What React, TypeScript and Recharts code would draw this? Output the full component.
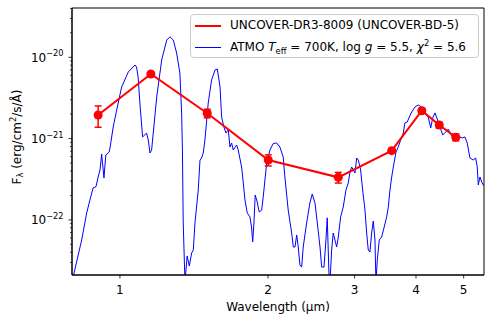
import React from 'react';
import { ComposedChart, Line, XAxis, YAxis, ErrorBar, Legend, ReferenceArea } from 'recharts';

// Photometry (UNCOVER-DR3-8009)
const photWave = [0.903, 1.156, 1.505, 2.003, 2.78, 3.57, 4.11, 4.46, 4.82];
const photFlux = [1.95e-21, 6.23e-21, 2.05e-21, 5.46e-22, 3.34e-22, 7.1e-22, 2.2e-21, 1.47e-21, 1.04e-21];
const photErr = [0.57e-21, 0.3e-21, 0.25e-21, 0.85e-22, 0.5e-22, 0.4e-22, 0.15e-21, 0.12e-21, 0.1e-21];

// ATMO model spectrum
const modelWave = [
  0.799, 0.836, 0.856, 0.869, 0.882, 0.894, 0.903, 0.911, 0.918, 0.928,
  0.936, 0.951, 0.956, 0.969, 0.985, 1.008, 1.040, 1.073, 1.081, 1.089,
  1.098, 1.112, 1.124, 1.133, 1.142, 1.151, 1.160, 1.188, 1.216, 1.245,
  1.264, 1.284, 1.304, 1.324, 1.335, 1.340, 1.345, 1.356, 1.370, 1.384,
  1.399, 1.410, 1.421, 1.443, 1.455, 1.466, 1.477, 1.489, 1.512, 1.536,
  1.561, 1.578, 1.598, 1.610, 1.627, 1.643, 1.661, 1.674, 1.687, 1.700,
  1.727, 1.740, 1.768, 1.782, 1.796, 1.815, 1.838, 1.852, 1.862, 1.873,
  1.884, 1.902, 1.920, 1.942, 1.956, 1.972, 1.988, 2.019, 2.050, 2.083,
  2.115, 2.148, 2.165, 2.199, 2.235, 2.252, 2.270, 2.288, 2.305, 2.323,
  2.342, 2.359, 2.397, 2.434, 2.461, 2.493, 2.520, 2.552, 2.572, 2.600,
  2.624, 2.640, 2.661, 2.674, 2.695, 2.715, 2.737, 2.759, 2.780, 2.811,
  2.845, 2.882, 2.913, 2.937, 2.960, 2.983, 3.006, 3.030, 3.053, 3.087,
  3.116, 3.150, 3.175, 3.199, 3.224, 3.250, 3.275, 3.301, 3.316, 3.337,
  3.368, 3.406, 3.443, 3.487, 3.514, 3.541, 3.570, 3.597, 3.643, 3.681,
  3.723, 3.769, 3.798, 3.840, 3.876, 3.920, 3.981, 4.043, 4.108, 4.172,
  4.236, 4.285, 4.325, 4.372, 4.419, 4.475, 4.532, 4.603, 4.653, 4.690,
  4.750, 4.824, 4.899, 4.977, 5.030, 5.085, 5.149, 5.229, 5.289, 5.329,
  5.354, 5.397, 5.440, 5.481, 5.524,
];
const modelFlux = [
  1.72e-23, 5.66e-23, 1.22e-22, 1.76e-22, 2.47e-22, 2.56e-22, 3.37e-22, 4.11e-22, 6.46e-22, 3.28e-22,
  6.28e-22, 6.84e-22, 8.11e-22, 1.39e-21, 2.25e-21, 4.31e-21, 6.60e-21, 8.04e-21, 7.60e-21, 5.72e-21,
  2.74e-21, 1.05e-21, 1.11e-21, 1.17e-21, 9.61e-22, 6.65e-22, 7.24e-22, 3.25e-21, 9.26e-21, 1.63e-20,
  1.79e-20, 1.63e-20, 1.13e-20, 6.41e-21, 2.07e-21, 7.24e-22, 9.16e-23, 1.72e-23, 3.60e-23, 2.71e-23,
  3.92e-23, 4.26e-23, 9.16e-23, 2.33e-22, 5.45e-22, 5.77e-22, 6.65e-22, 9.61e-22, 2.74e-21, 5.26e-21,
  6.98e-21, 7.18e-21, 4.31e-21, 1.84e-21, 1.39e-21, 1.17e-21, 1.28e-21, 7.88e-22, 8.83e-22, 7.24e-22,
  8.35e-22, 7.24e-22, 4.47e-22, 2.84e-22, 1.76e-22, 1.22e-22, 1.09e-22, 8.18e-23, 5.35e-23, 9.16e-23,
  2.02e-22, 1.66e-22, 1.25e-22, 1.32e-22, 1.91e-22, 3.10e-22, 5.01e-22, 7.24e-22, 8.71e-22, 8.83e-22,
  7.88e-22, 5.94e-22, 3.37e-22, 1.32e-22, 6.90e-23, 4.64e-23, 4.64e-23, 6.52e-23, 4.64e-23, 2.79e-23,
  2.63e-23, 4.64e-23, 9.16e-23, 1.61e-22, 2.08e-22, 1.61e-22, 9.16e-23, 4.64e-23, 2.63e-23, 2.63e-23,
  5.66e-23, 1.06e-22, 2.22e-23, 1.72e-23, 4.26e-23, 6.90e-23, 5.66e-23, 4.64e-23, 6.16e-23, 1.09e-22,
  1.44e-22, 2.33e-22, 2.84e-22, 3.88e-22, 4.47e-22, 4.11e-22, 3.78e-22, 5.77e-22, 5.45e-22, 4.11e-22,
  2.33e-22, 1.32e-22, 6.90e-23, 4.26e-23, 4.03e-23, 6.90e-23, 9.69e-23, 5.66e-23, 1.72e-23, 3.21e-23,
  5.66e-23, 6.16e-23, 7.95e-23, 1.09e-22, 1.44e-22, 2.33e-22, 3.37e-22, 4.47e-22, 6.84e-22, 7.88e-22,
  9.61e-22, 1.17e-21, 1.56e-21, 1.60e-21, 1.84e-21, 2.12e-21, 2.45e-21, 2.59e-21, 2.45e-21, 2.07e-21,
  1.84e-21, 1.35e-21, 1.79e-21, 2.07e-21, 1.74e-21, 1.39e-21, 1.11e-21, 1.21e-21, 1.31e-21, 1.17e-21,
  1.05e-21, 1.02e-21, 1.05e-21, 1.02e-21, 1.05e-21, 8.83e-22, 5.77e-22, 5.45e-22, 5.77e-22, 4.47e-22,
  2.69e-22, 3.37e-22, 2.93e-22, 2.69e-22, 2.60e-22,
];

// Axes
const xDomain = [0.799, 5.5];
const yDomain = [2.1e-23, 4.04e-20];
const xTicks = [1, 2, 3, 4, 5];
const yDecades = [-23, -22, -21, -20];
const yMinorMantissas = [2, 3, 4, 5, 6, 7, 8, 9];

const yTicks: number[] = [];
yDecades.forEach((d) => {
  const base = Math.pow(10, d);
  [1, ...yMinorMantissas].forEach((m) => {
    const v = m * base;
    if (v >= yDomain[0] && v <= yDomain[1]) yTicks.push(v);
  });
});

const photData = photWave.map((w, i) => ({ w, f: photFlux[i], e: photErr[i] }));
const modelData = modelWave.map((w, i) => ({ w, f: modelFlux[i] }));

const FONT = "'DejaVu Sans', sans-serif";

const YTick = (props: any) => {
  const { x, y, payload } = props;
  const v = payload.value as number;
  const lg = Math.log10(v);
  const e = Math.round(lg);
  const major = Math.abs(lg - e) < 1e-6;
  if (!major) {
    return <line x1={x - 2} x2={x} y1={y} y2={y} stroke="#000" strokeWidth={0.7} />;
  }
  return (
    <g>
      <line x1={x - 3.5} x2={x} y1={y} y2={y} stroke="#000" strokeWidth={0.8} />
      <text x={x - 8.5} y={y + 4.5} textAnchor="end" fontFamily={FONT} fontSize={12} fill="#000">
        10<tspan fontSize={8.2} dy={-5.5}>{'\u2212' + Math.abs(e)}</tspan>
      </text>
    </g>
  );
};

const XTick = (props: any) => {
  const { x, y, payload } = props;
  return (
    <g>
      <line x1={x} x2={x} y1={y} y2={y + 3.5} stroke="#000" strokeWidth={0.8} />
      <text x={x} y={y + 19} textAnchor="middle" fontFamily={FONT} fontSize={12} fill="#000">
        {String(payload.value)}
      </text>
    </g>
  );
};

const YLabel = (props: any) => {
  const vb = props.viewBox || { x: 0, y: 8, width: 72, height: 267 };
  const cx = 20.5;
  const cy = vb.y + vb.height / 2 - 4.5;
  return (
    <text
      x={cx}
      y={cy}
      transform={`rotate(-90, ${cx}, ${cy})`}
      textAnchor="middle"
      fontFamily={FONT}
      fontSize={12}
      fill="#000"
    >
      F<tspan fontSize={8.4} dy={2.5}>λ</tspan>
      <tspan dy={-2.5}> (erg/cm</tspan>
      <tspan fontSize={8.4} dy={-4.5}>2</tspan>
      <tspan dy={4.5}>/s/Å)</tspan>
    </text>
  );
};

const XLabel = (props: any) => {
  const vb = props.viewBox || { x: 72, y: 275, width: 412, height: 48 };
  return (
    <text
      x={vb.x + vb.width / 2}
      y={vb.y + 35.5}
      textAnchor="middle"
      fontFamily={FONT}
      fontSize={12}
      fill="#000"
    >
      Wavelength (µm)
    </text>
  );
};

const LegendBox = () => (
  <div
    style={{
      boxSizing: 'border-box',
      position: 'relative',
      width: 289,
      height: 44,
      border: '1px solid #cccccc',
      borderRadius: 4,
      background: 'rgba(255,255,255,0.8)',
      fontFamily: FONT,
      fontSize: 12,
      color: '#000',
    }}
  >
    <div style={{ position: 'absolute', left: 3.5, top: 9.5, width: 26, height: 2, background: '#ff0000' }} />
    <div style={{ position: 'absolute', left: 39, top: 3, lineHeight: '14px', whiteSpace: 'nowrap' }}>
      UNCOVER-DR3-8009 (UNCOVER-BD-5)
    </div>
    <div style={{ position: 'absolute', left: 3.5, top: 31.5, width: 26, height: 1, background: '#0000ff' }} />
    <div style={{ position: 'absolute', left: 39, top: 25, lineHeight: '14px', whiteSpace: 'nowrap' }}>
      ATMO <i>T</i>
      <span style={{ fontSize: 8.4, position: 'relative', top: 2.5 }}>eff</span> = 700K, log <i>g</i> = 5.5,{' '}
      <i>χ</i>
      <span style={{ fontSize: 8.4, position: 'relative', top: -5 }}>2</span> = 5.6
    </div>
  </div>
);

export default function App() {
  return (
    <div style={{ position: 'absolute', left: 0, top: 0, width: 493, height: 323, background: '#fff' }}>
      <ComposedChart width={493} height={323} margin={{ top: 8, right: 9, bottom: 0, left: 0 }}>
        <XAxis
          dataKey="w"
          type="number"
          scale="log"
          domain={xDomain}
          allowDataOverflow
          ticks={xTicks}
          interval={0}
          height={48}
          tickSize={0}
          tickMargin={0}
          tick={<XTick />}
          tickLine={false}
          axisLine={{ stroke: '#000', strokeWidth: 1 }}
          label={<XLabel />}
        />
        <YAxis
          dataKey="f"
          type="number"
          scale="log"
          domain={yDomain}
          allowDataOverflow
          ticks={yTicks}
          interval={0}
          width={72}
          tickSize={0}
          tickMargin={0}
          tick={<YTick />}
          tickLine={false}
          axisLine={{ stroke: '#000', strokeWidth: 1 }}
          label={<YLabel />}
        />
        <ReferenceArea
          x1={xDomain[0]}
          x2={xDomain[1]}
          y1={yDomain[0]}
          y2={yDomain[1]}
          fill="none"
          fillOpacity={0}
          stroke="#000"
          strokeWidth={1}
          ifOverflow="visible"
        />
        <Line
          data={modelData}
          dataKey="f"
          type="linear"
          stroke="#0000ff"
          strokeWidth={1}
          dot={false}
          activeDot={false}
          isAnimationActive={false}
        />
        <Line
          data={photData}
          dataKey="f"
          type="linear"
          stroke="#ff0000"
          strokeWidth={2}
          dot={{ r: 4.5, fill: '#ff0000', stroke: '#ff0000', strokeWidth: 0 }}
          activeDot={false}
          isAnimationActive={false}
        >
          <ErrorBar dataKey="e" direction="y" width={3.5} stroke="#ff0000" strokeWidth={1.5} />
        </Line>
        <Legend
          layout="horizontal"
          verticalAlign="middle"
          align="center"
          wrapperStyle={{ left: 190, top: 14, width: 289, height: 44 }}
          content={<LegendBox />}
        />
      </ComposedChart>
    </div>
  );
}
